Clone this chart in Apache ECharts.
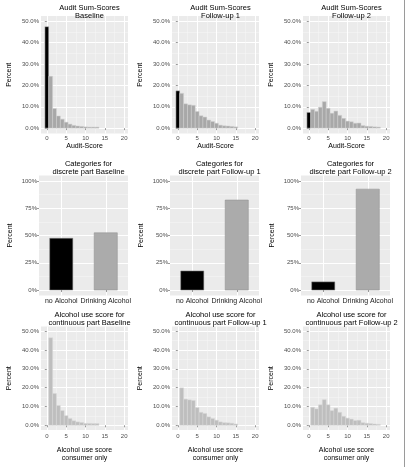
<!DOCTYPE html>
<html>
<head>
<meta charset="utf-8">
<script src="https://cdn.jsdelivr.net/npm/echarts@6/dist/echarts.min.js"></script>
<style>
  html, body { margin: 0; padding: 0; background: #fff; }
  #c { width: 407px; height: 467px; }
</style>
</head>
<body>
<div id="c"></div>
<script>
// Audit sum-scores, percent of all, score 0..n
var auditBaseline = [47.5, 24.3, 9.2, 5.7, 4.2, 2.8, 1.9, 1.3, 1.0, 0.8, 0.6, 0.5, 0.5, 0.5];
var auditFollow1 = [17.5, 16.3, 11.4, 10.9, 10.7, 7.8, 5.8, 5.2, 3.8, 3.1, 2.3, 1.4, 1.1, 1.0, 0.8, 0.6];
var auditFollow2 = [7.4, 8.8, 7.9, 9.8, 12.4, 9.3, 7.0, 8.0, 6.0, 4.6, 3.3, 3.0, 2.3, 2.4, 1.2, 0.9, 0.8, 0.6, 0.5];

// discrete part
var categories = ['no Alcohol', 'Drinking Alcohol'];
var discreteBaseline = [47.5, 52.5];
var discreteFollow1 = [17.5, 82.5];
var discreteFollow2 = [7.5, 92.5];

// continuous part, consumers only, score 1..n
var contBaseline = [46.5, 16.9, 10.5, 7.8, 5.1, 3.6, 2.4, 1.8, 1.5, 1.0, 1.0, 0.9, 0.9];
var contFollow1 = [19.9, 13.9, 13.5, 13.2, 9.4, 6.9, 6.3, 4.5, 3.6, 2.7, 1.8, 1.4, 1.3, 1.1, 0.7];
var contFollow2 = [9.6, 8.7, 10.9, 13.6, 10.9, 7.8, 9.1, 6.9, 4.8, 3.8, 3.3, 2.5, 2.7, 1.4, 1.1, 0.9, 0.7, 0.5];

// axis breaks
var pctTicks = [0, 10, 20, 30, 40, 50];
var pctMinor = [5, 15, 25, 35, 45];
var catPctTicks = [0, 25, 50, 75, 100];
var catPctMinor = [12.5, 37.5, 62.5, 87.5];
var scoreTicks = [0, 5, 10, 15, 20];
var scoreMinor = [2.5, 7.5, 12.5, 17.5];

var titles = [
  'Audit Sum-Scores\nBaseline', 'Audit Sum-Scores\nFollow-up 1', 'Audit Sum-Scores\nFollow-up 2',
  'Categories for\ndiscrete part Baseline', 'Categories for\ndiscrete part Follow-up 1', 'Categories for\ndiscrete part Follow-up 2',
  'Alcohol use score for\ncontinuous part Baseline', 'Alcohol use score for\ncontinuous part Follow-up 1', 'Alcohol use score for\ncontinuous part Follow-up 2'
];

var font = '"Liberation Sans", Arial, sans-serif';
var rows = [
  { top: 16, height: 117.5, lefts: [41, 172, 303], titleTop: -1 },
  { top: 175.5, height: 120, lefts: [39, 170, 301], titleTop: 155 },
  { top: 326.5, height: 103.5, lefts: [41, 172, 303], titleTop: 306 }
];
var rights = [128, 259, 390];

var chart = echarts.init(document.getElementById('c'));
var grids = [], xAxes = [], yAxes = [], series = [], titleList = [];

function barItem(width, fills, stroke) {
  return function (params, api) {
    var x = api.value(0), y = api.value(1), k = api.value(2);
    var p0 = api.coord([x - width / 2, 0]);
    var p1 = api.coord([x + width / 2, y]);
    return {
      type: 'rect',
      shape: { x: p0[0], y: p1[1], width: p1[0] - p0[0], height: p0[1] - p1[1] },
      style: { fill: fills[k], stroke: stroke, lineWidth: 0.5 }
    };
  };
}

function addPanel(r, c, opt) {
  var row = rows[r];
  var gi = grids.length;
  var left = row.lefts[c];
  grids.push({
    left: left, top: row.top, width: rights[c] - left, height: row.height,
    show: true, backgroundColor: '#EBEBEB', borderWidth: 0
  });
  titleList.push({
    text: titles[gi], left: (left + rights[c]) / 2, top: row.titleTop, textAlign: 'center',
    textStyle: { fontSize: 7.5, fontWeight: 'normal', color: '#000', fontFamily: font, lineHeight: 8 }
  });
  var labelStyle = { fontSize: 6, color: '#4D4D4D', fontFamily: font };
  var xi = xAxes.length, yi = yAxes.length;
  xAxes.push({
    gridIndex: gi, type: 'value', min: opt.xMin, max: opt.xMax,
    axisLine: { show: false },
    axisTick: { show: true, length: 2, customValues: opt.xTicks, lineStyle: { color: '#333', width: 0.5 } },
    axisLabel: Object.assign({ customValues: opt.xTicks, margin: opt.xMargin, formatter: opt.xFmt, hideOverlap: false }, opt.xLabelStyle || labelStyle),
    splitLine: { show: true, lineStyle: { color: '#fff', width: 1 } },
    name: opt.xName, nameLocation: 'middle', nameGap: opt.xNameGap,
    nameTextStyle: { fontSize: 7, color: '#000', fontFamily: font, lineHeight: 8 }
  });
  xAxes.push({
    gridIndex: gi, type: 'value', min: opt.xMin, max: opt.xMax, position: 'bottom',
    axisLine: { show: false }, axisLabel: { show: false },
    axisTick: { show: false, customValues: opt.xMinor },
    splitLine: { show: !!opt.xMinor, lineStyle: { color: '#F7F7F7', width: 0.5 } }
  });
  yAxes.push({
    gridIndex: gi, type: 'value', min: opt.yMin, max: opt.yMax,
    axisLine: { show: false },
    axisTick: { show: true, length: 2, customValues: opt.yTicks, lineStyle: { color: '#333', width: 0.5 } },
    axisLabel: Object.assign({ customValues: opt.yTicks, margin: 2, formatter: opt.yFmt }, labelStyle),
    splitLine: { show: true, lineStyle: { color: '#fff', width: 1 } },
    name: 'Percent', nameLocation: 'middle', nameRotate: 90, nameGap: opt.yNameGap,
    nameTextStyle: { fontSize: 7, color: '#000', fontFamily: font }
  });
  yAxes.push({
    gridIndex: gi, type: 'value', min: opt.yMin, max: opt.yMax, position: 'left',
    axisLine: { show: false }, axisLabel: { show: false },
    axisTick: { show: false, customValues: opt.yMinor },
    splitLine: { show: true, lineStyle: { color: '#F7F7F7', width: 0.5 } }
  });
  series.push({
    type: 'custom', coordinateSystem: 'cartesian2d', xAxisIndex: xi, yAxisIndex: yi,
    encode: { x: 0, y: 1 }, data: opt.data,
    renderItem: barItem(opt.barWidth, opt.fills, opt.stroke)
  });
}

function pctFmt(v) { return v.toFixed(1) + '%'; }

var auditSets = [auditBaseline, auditFollow1, auditFollow2];
auditSets.forEach(function (vals, c) {
  addPanel(0, c, {
    xMin: -1.5, xMax: 21, xTicks: scoreTicks, xMinor: scoreMinor, xFmt: null, xMargin: 2,
    yMin: -2.5, yMax: 52.5, yTicks: pctTicks, yMinor: pctMinor, yFmt: pctFmt,
    xName: 'Audit-Score', xNameGap: 9, yNameGap: 28,
    data: vals.map(function (v, i) { return [i, v, i === 0 ? 0 : 1]; }),
    barWidth: 1, fills: ['#000', '#A8A8A8'], stroke: '#D0D0D0'
  });
});

var discSets = [discreteBaseline, discreteFollow1, discreteFollow2];
discSets.forEach(function (vals, c) {
  addPanel(1, c, {
    xMin: 0.5, xMax: 2.5, xTicks: [1, 2], xMinor: null, xMargin: 2,
    xFmt: function (v) { return categories[Math.round(v) - 1]; },
    xLabelStyle: { fontSize: 7, color: '#222', fontFamily: font },
    yMin: -5, yMax: 105, yTicks: catPctTicks, yMinor: catPctMinor, yFmt: function (v) { return v + '%'; },
    xName: '', xNameGap: 10, yNameGap: 25,
    data: vals.map(function (v, i) { return [i + 1, v, i]; }),
    barWidth: 0.52, fills: ['#000', '#ABABAB'], stroke: '#8C8C8C'
  });
});

var contSets = [contBaseline, contFollow1, contFollow2];
contSets.forEach(function (vals, c) {
  addPanel(2, c, {
    xMin: -1.5, xMax: 21, xTicks: scoreTicks, xMinor: scoreMinor, xFmt: null, xMargin: 3.5,
    yMin: -2.5, yMax: 52.5, yTicks: pctTicks, yMinor: pctMinor, yFmt: pctFmt,
    xName: 'Alcohol use score\nconsumer only', xNameGap: 16, yNameGap: 28,
    data: vals.map(function (v, i) { return [i + 1, v, 0]; }),
    barWidth: 1, fills: ['#BEBEBE'], stroke: '#D8D8D8'
  });
});

chart.setOption({
  animation: false,
  textStyle: { fontFamily: font },
  title: titleList,
  grid: grids,
  xAxis: xAxes,
  yAxis: yAxes,
  series: series,
  graphic: [{
    type: 'line', shape: { x1: 404.5, y1: 0, x2: 404.5, y2: 467 },
    style: { stroke: '#9A9A9A', lineWidth: 1 }
  }]
});
</script>
</body>
</html>
